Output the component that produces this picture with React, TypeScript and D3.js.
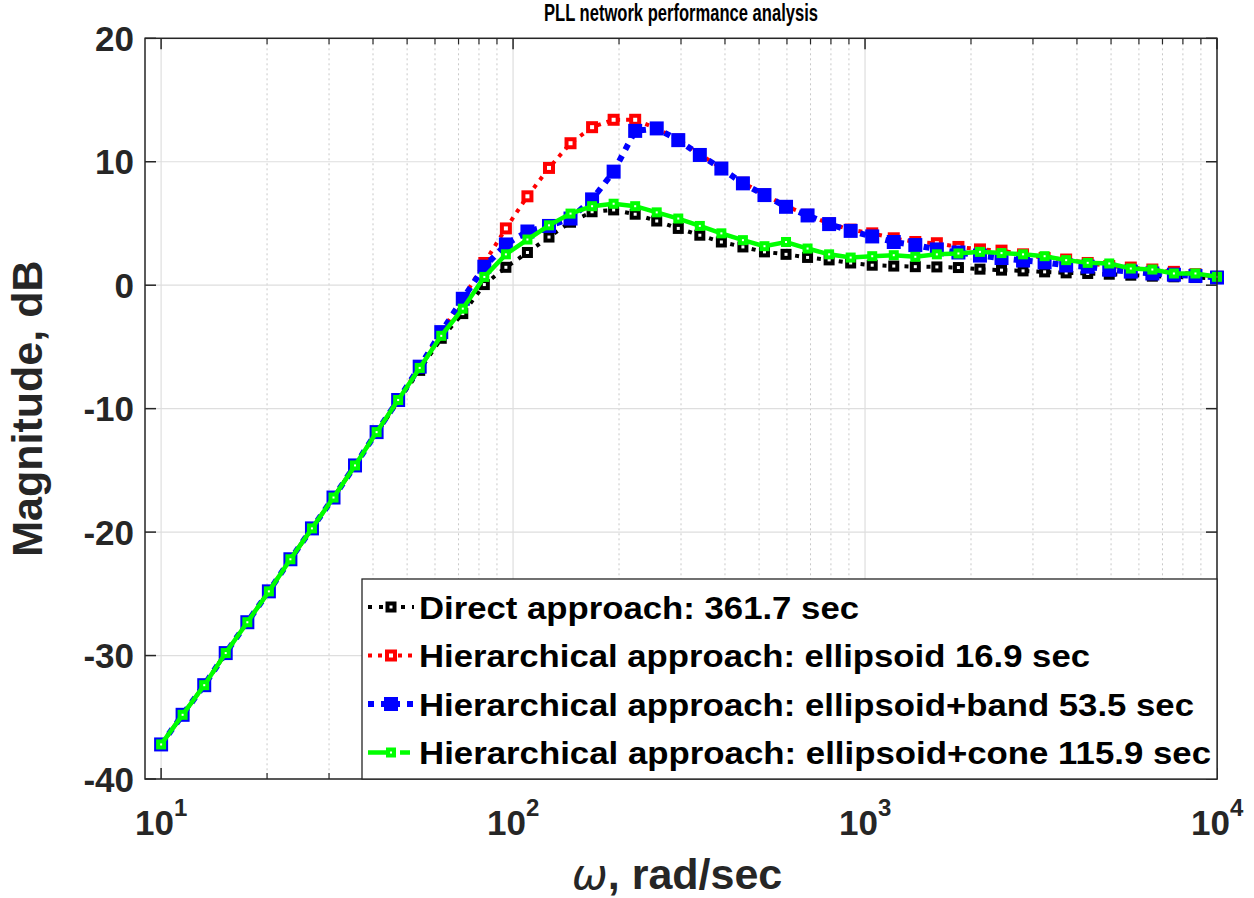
import * as d3 from "d3";
import React from "react";

// frequency points, rad/sec (logspace 10..1e4, 50 pts)
const omega = [
  10, 11.51, 13.26, 15.26, 17.58, 20.24, 23.3, 26.83, 30.89, 35.56,
  40.95, 47.15, 54.29, 62.51, 71.97, 82.86, 95.41, 109.85, 126.49, 145.63,
  167.68, 193.07, 222.3, 255.95, 294.71, 339.32, 390.69, 449.84, 517.95, 596.36,
  686.65, 790.6, 910.3, 1048.1, 1206.8, 1389.5, 1599.9, 1842.1, 2121.0, 2442.1,
  2811.8, 3237.5, 3727.6, 4291.9, 4941.7, 5689.9, 6551.3, 7543.1, 8685.1, 10000,
];

const directDb = [
  -37.2, -34.8, -32.4, -29.8, -27.3, -24.8, -22.2, -19.7, -17.2, -14.6,
  -12.0, -9.4, -6.9, -4.3, -2.3, 0.05, 1.45, 2.65, 3.9, 5.1,
  5.95, 6.1, 5.75, 5.2, 4.6, 4.05, 3.5, 3.1, 2.7, 2.5,
  2.25, 2.05, 1.8, 1.62, 1.55, 1.5, 1.48, 1.43, 1.3, 1.22,
  1.16, 1.08, 1.0, 0.95, 0.89, 0.81, 0.73, 0.68, 0.62, 0.54,
];

const ellipsoidDb = [
  -37.2, -34.8, -32.4, -29.8, -27.3, -24.8, -22.2, -19.7, -17.2, -14.6,
  -11.9, -9.3, -6.6, -3.8, -1.1, 1.8, 4.6, 7.2, 9.5, 11.5,
  12.8, 13.4, 13.4, 12.7, 11.8, 10.6, 9.5, 8.3, 7.35, 6.4,
  5.7, 5.0, 4.5, 4.2, 3.8, 3.5, 3.4, 3.1, 2.9, 2.8,
  2.5, 2.2, 2.08, 1.8, 1.55, 1.43, 1.27, 1.08, 0.89, 0.68,
];

const bandDb = [
  -37.2, -34.8, -32.4, -29.8, -27.3, -24.8, -22.2, -19.7, -17.2, -14.6,
  -11.9, -9.3, -6.6, -3.8, -1.1, 1.5, 3.3, 4.35, 4.8, 5.4,
  6.95, 9.2, 12.5, 12.7, 11.75, 10.55, 9.45, 8.25, 7.3, 6.35,
  5.65, 4.95, 4.4, 3.95, 3.5, 3.25, 2.9, 2.65, 2.4, 2.2,
  2.0, 1.85, 1.6, 1.5, 1.25, 1.1, 0.95, 0.85, 0.75, 0.62,
];

const coneDb = [
  -37.2, -34.8, -32.4, -29.8, -27.3, -24.8, -22.2, -19.7, -17.2, -14.6,
  -11.9, -9.3, -6.7, -4.1, -1.9, 0.67, 2.5, 3.7, 4.85, 5.8,
  6.4, 6.6, 6.4, 5.9, 5.4, 4.8, 4.2, 3.65, 3.16, 3.5,
  2.97, 2.5, 2.24, 2.35, 2.43, 2.3, 2.5, 2.57, 2.7, 2.6,
  2.5, 2.35, 2.03, 1.81, 1.76, 1.35, 1.27, 0.95, 0.95, 0.68,
];

const legendLabels = [
  "Direct approach: 361.7 sec",
  "Hierarchical approach: ellipsoid 16.9 sec",
  "Hierarchical approach: ellipsoid+band 53.5 sec",
  "Hierarchical approach: ellipsoid+cone 115.9 sec",
];
const legendWidths = [440, 671, 775, 792];

const yTicks = [-40, -30, -20, -10, 0, 10, 20];
const xMajor = [10, 100, 1000, 10000];
const xExp = ["1", "2", "3", "4"];

const W = 1254;
const H = 898;
const left = 145, right = 1217, top = 38.3, bottom = 779;
const FONT = "'Liberation Sans', Arial, Helvetica, sans-serif";
const AX = "#262626";

type Style = { color: string; width: number; dash: string | null; marker: "hollow" | "filled"; size: number; sw: number };

const series: { data: number[]; style: Style }[] = [
  { data: directDb, style: { color: "#000000", width: 4, dash: "4 7", marker: "hollow", size: 7, sw: 4 } },
  { data: ellipsoidDb, style: { color: "#ff0000", width: 4, dash: "4 6", marker: "hollow", size: 8, sw: 4 } },
  { data: bandDb, style: { color: "#0000ff", width: 6, dash: "6 7", marker: "filled", size: 14, sw: 0 } },
  { data: coneDb, style: { color: "#00ff00", width: 4.5, dash: null, marker: "hollow", size: 6, sw: 4 } },
];

function Marker({ x, y, s }: { x: number; y: number; s: Style }) {
  if (s.marker === "filled") {
    return <rect x={x - s.size / 2} y={y - s.size / 2} width={s.size} height={s.size} fill={s.color} />;
  }
  return (
    <rect x={x - s.size / 2} y={y - s.size / 2} width={s.size} height={s.size}
      fill="#ffffff" stroke={s.color} strokeWidth={s.sw} />
  );
}

export default function App() {
  const x = d3.scaleLog().domain([9.0, 10000]).range([left, right]);
  const y = d3.scaleLinear().domain([-40, 20]).range([bottom, top]);

  const line = d3.line<number>()
    .x((_, i) => x(omega[i]))
    .y(d => y(d));

  // minor ticks 20..90 per decade
  const minor: number[] = [];
  [10, 100, 1000].forEach(dec => {
    for (let k = 2; k <= 9; k++) minor.push(dec * k);
  });

  const legX = 362, legY = 579;
  const rowY = [607, 655.5, 704, 752.5];

  return (
    <svg width={W} height={H} style={{ position: "absolute", left: 0, top: 0, background: "#fff" }}
      fontFamily={FONT}>
      <rect x={0} y={0} width={W} height={H} fill="#ffffff" />
      {/* grid */}
      {minor.map(v => (
        <line key={"mg" + v} x1={x(v)} x2={x(v)} y1={top} y2={bottom}
          stroke="#c8c8c8" strokeWidth={1} strokeDasharray="2 3" />
      ))}
      {xMajor.map(v => (
        <line key={"xg" + v} x1={x(v)} x2={x(v)} y1={top} y2={bottom} stroke="#dedede" strokeWidth={1.2} />
      ))}
      {yTicks.map(v => (
        <line key={"yg" + v} x1={left} x2={right} y1={y(v)} y2={y(v)} stroke="#dedede" strokeWidth={1.2} />
      ))}

      {/* series: each line with its markers, in plotting order */}
      {series.map((s, k) => (
        <g key={"s" + k}>
          <path d={line(s.data) || ""} fill="none" stroke={s.style.color}
            strokeWidth={s.style.width} strokeDasharray={s.style.dash || undefined} strokeLinecap="butt" />
          {s.data.map((d, i) => <Marker key={i} x={x(omega[i])} y={y(d)} s={s.style} />)}
        </g>
      ))}

      {/* axes box and ticks */}
      <rect x={left} y={top} width={right - left} height={bottom - top} fill="none" stroke={AX} strokeWidth={1.5} />
      {xMajor.map(v => (
        <g key={"xt" + v}>
          <line x1={x(v)} x2={x(v)} y1={bottom} y2={bottom - 11} stroke={AX} strokeWidth={1.5} />
          <line x1={x(v)} x2={x(v)} y1={top} y2={top + 11} stroke={AX} strokeWidth={1.5} />
        </g>
      ))}
      {minor.map(v => (
        <g key={"mt" + v}>
          <line x1={x(v)} x2={x(v)} y1={bottom} y2={bottom - 6} stroke={AX} strokeWidth={1.2} />
          <line x1={x(v)} x2={x(v)} y1={top} y2={top + 6} stroke={AX} strokeWidth={1.2} />
        </g>
      ))}
      {yTicks.map(v => (
        <g key={"yt" + v}>
          <line x1={left} x2={left + 11} y1={y(v)} y2={y(v)} stroke={AX} strokeWidth={1.5} />
          <line x1={right} x2={right - 11} y1={y(v)} y2={y(v)} stroke={AX} strokeWidth={1.5} />
          <text x={134} y={y(v) + 12.5} textAnchor="end" fontSize={35} fontWeight="bold" fill={AX}>{v}</text>
        </g>
      ))}
      {xMajor.map((v, i) => (
        <text key={"xl" + v} x={x(v) - 26} y={835} fontSize={35} fontWeight="bold" fill={AX}>
          10<tspan fontSize={24} dy={-19}>{xExp[i]}</tspan>
        </text>
      ))}

      {/* labels */}
      <text x={681} y={21} textAnchor="middle" fontSize={23} fontWeight="bold" fill="#000"
        textLength={274} lengthAdjust="spacingAndGlyphs">
        PLL network performance analysis
      </text>
      <text x={677} y={889} textAnchor="middle" fontSize={43} fontWeight="bold" fill={AX}>
        <tspan fontFamily="'DejaVu Sans', sans-serif" fontStyle="italic" fontWeight="normal">ω</tspan>, rad/sec
      </text>
      <text transform={`translate(42,${(top + bottom) / 2}) rotate(-90)`} textAnchor="middle"
        fontSize={43} fontWeight="bold" fill={AX}>Magnitude, dB</text>

      {/* legend */}
      <rect x={legX} y={legY} width={right - legX} height={bottom - legY} fill="#ffffff" stroke={AX} strokeWidth={1.3} />
      {series.map((s, k) => (
        <g key={"lg" + k}>
          <line x1={368} x2={414} y1={rowY[k]} y2={rowY[k]} stroke={s.style.color} strokeWidth={s.style.width}
            strokeDasharray={s.style.dash || "22 10 10"} />
          <Marker x={391} y={rowY[k]} s={s.style} />
          <text x={419} y={rowY[k] + 11.5} fontSize={32} fontWeight="bold" fill="#000"
            textLength={legendWidths[k]} lengthAdjust="spacingAndGlyphs">{legendLabels[k]}</text>
        </g>
      ))}
    </svg>
  );
}
